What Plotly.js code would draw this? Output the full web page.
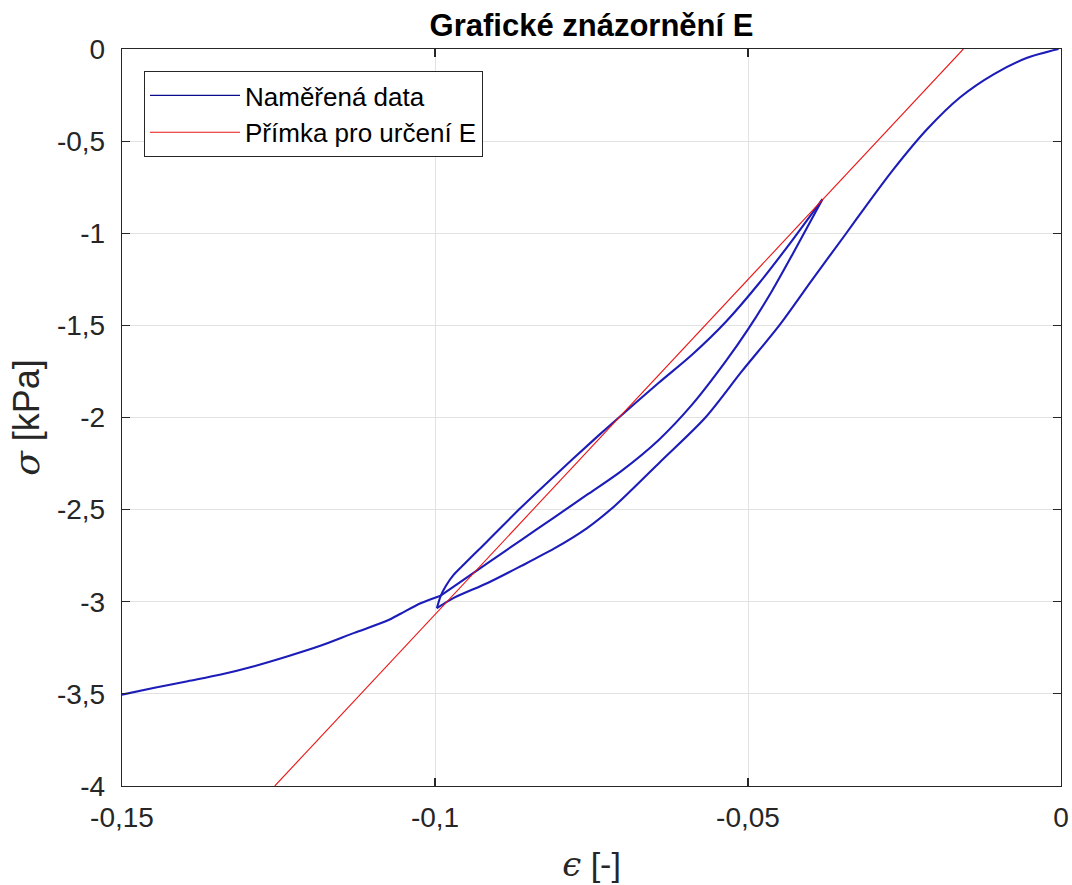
<!DOCTYPE html>
<html>
<head>
<meta charset="utf-8">
<script src="https://cdn.plot.ly/plotly-3.0.1.min.js"></script>
<style>
  html, body { margin: 0; padding: 0; background: #fff; }
  #chart { width: 1072px; height: 885px; }
</style>
</head>
<body>
<div id="chart"></div>
<script>
// Measured stress-strain loop, split into its loading / unloading branches
// Branch 1: first loading from the origin down to the turning point
const loadStrain = [-0.0004, -0.0054, -0.0107, -0.0161, -0.0214, -0.0268, -0.0311, -0.0343, -0.0397,
                    -0.0450, -0.0510, -0.0568, -0.0640, -0.0713, -0.0757, -0.0810, -0.0863,
                    -0.0916, -0.0970, -0.0997];
const loadStress = [0.000, -0.048, -0.136, -0.262, -0.436, -0.655, -0.850, -1.000, -1.250,
                    -1.500, -1.750, -2.000, -2.240, -2.480, -2.600, -2.712, -2.807,
                    -2.898, -2.979, -3.035];
// Branch 2: unloading up to the upper turning point
const unloadStrain = [-0.0997, -0.0991, -0.0983, -0.0970, -0.0954, -0.0938, -0.0916, -0.0863, -0.0810,
                      -0.0746, -0.0723, -0.0643, -0.0589, -0.0536, -0.0482, -0.0429, -0.0381];
const unloadStress = [-3.035, -2.970, -2.916, -2.853, -2.798, -2.744, -2.670, -2.490, -2.320,
                      -2.120, -2.050, -1.813, -1.658, -1.483, -1.270, -1.037, -0.815];
// Branch 3: reloading back down
const reloadStrain = [-0.0381, -0.0429, -0.0461, -0.0500, -0.0536, -0.0589, -0.0643, -0.0703, -0.0757,
                      -0.0810, -0.0863, -0.0916, -0.0954, -0.0991];
const reloadStress = [-0.815, -1.115, -1.309, -1.522, -1.697, -1.929, -2.123, -2.292, -2.419,
                      -2.543, -2.667, -2.790, -2.880, -2.967];
// Branch 4: continued loading to the end of the test
const tailStrain = [-0.0991, -0.1023, -0.1055, -0.1076, -0.1129, -0.1182, -0.1235, -0.1289, -0.1342,
                    -0.1395, -0.1448, -0.1500];
const tailStress = [-2.967, -3.008, -3.065, -3.102, -3.169, -3.238, -3.296, -3.350, -3.395,
                    -3.431, -3.467, -3.504];

const lineStrain = [-0.1256, -0.0156];
const lineStress = [-4.0, 0.0];

// Axis ticks (decimal comma)
const xTickVals = [-0.15, -0.1, -0.05, 0];
const xTickText = ['-0,15', '-0,1', '-0,05', '0'];
const yTickVals = [0, -0.5, -1, -1.5, -2, -2.5, -3, -3.5, -4];
const yTickText = ['0', '-0,5', '-1', '-1,5', '-2', '-2,5', '-3', '-3,5', '-4'];

const seriesNames = ['Naměřená data', 'Přímka pro určení E'];

const FONT = 'Liberation Sans, Arial, Helvetica, sans-serif';
const BLUE = 'rgb(28,28,185)';
const RED = 'rgb(235,20,20)';

const branches = [
  [loadStrain, loadStress],
  [unloadStrain, unloadStress],
  [reloadStrain, reloadStress],
  [tailStrain, tailStress]
];

const traces = branches.map(b => ({
  x: b[0], y: b[1],
  type: 'scatter', mode: 'lines',
  name: seriesNames[0],
  legendgroup: 'data',
  showlegend: false,
  line: { color: BLUE, width: 2.1, shape: 'spline', smoothing: 0.8 },
  hoverinfo: 'x+y'
}));

// legend entry for the measured data, drawn with a thin sample line
traces.unshift({
  x: [null], y: [null],
  type: 'scatter', mode: 'lines',
  name: seriesNames[0],
  legendgroup: 'data',
  showlegend: true,
  line: { color: 'rgb(10,10,140)', width: 1.2 }
});

traces.push({
  x: lineStrain, y: lineStress,
  type: 'scatter', mode: 'lines',
  name: seriesNames[1],
  line: { color: RED, width: 1.1 },
  hoverinfo: 'x+y'
});

const axisCommon = {
  showline: true, mirror: 'ticks', linecolor: '#262626', linewidth: 1.2,
  ticks: 'inside', ticklen: 8, tickwidth: 1.2, tickcolor: '#262626',
  showgrid: true, gridcolor: '#e2e2e2', gridwidth: 1,
  zeroline: false,
  tickfont: { family: FONT, size: 28, color: '#262626' },
  tickmode: 'array', fixedrange: true
};

const layout = {
  width: 1072, height: 885,
  margin: { l: 122, r: 11, t: 49, b: 99 },
  paper_bgcolor: '#fff', plot_bgcolor: '#fff',
  font: { family: FONT, color: '#262626' },
  title: {
    text: 'Grafické znázornění E',
    font: { family: FONT, size: 31, color: '#000', weight: 'bold' },
    x: 0.5, xref: 'paper', xanchor: 'center',
    y: 1 - 25 / 885, yref: 'container', yanchor: 'middle'
  },
  xaxis: Object.assign({}, axisCommon, {
    range: [-0.15, 0],
    tickvals: xTickVals, ticktext: xTickText,
    ticklabelstandoff: 6,
    title: {
      text: '<span style="font-family:DejaVu Serif;font-style:italic">ϵ</span> [-]',
      font: { family: FONT, size: 34, color: '#262626' },
      standoff: 20
    }
  }),
  yaxis: Object.assign({}, axisCommon, {
    range: [-4, 0],
    tickvals: yTickVals, ticktext: yTickText,
    ticklabelstandoff: 10,
    title: {
      text: '<span style="font-family:DejaVu Serif;font-style:italic">σ</span> [kPa]',
      font: { family: FONT, size: 36, color: '#262626' },
      standoff: 6
    }
  }),
  showlegend: true,
  legend: {
    x: 22 / 939, y: 1 - 22 / 737, xanchor: 'left', yanchor: 'top',
    bgcolor: '#fff', bordercolor: '#262626', borderwidth: 1,
    font: { family: FONT, size: 26, color: '#000' },
    itemwidth: 90, tracegroupgap: 0
  }
};

Plotly.newPlot('chart', traces, layout, { displayModeBar: false, staticPlot: true });
</script>
</body>
</html>
